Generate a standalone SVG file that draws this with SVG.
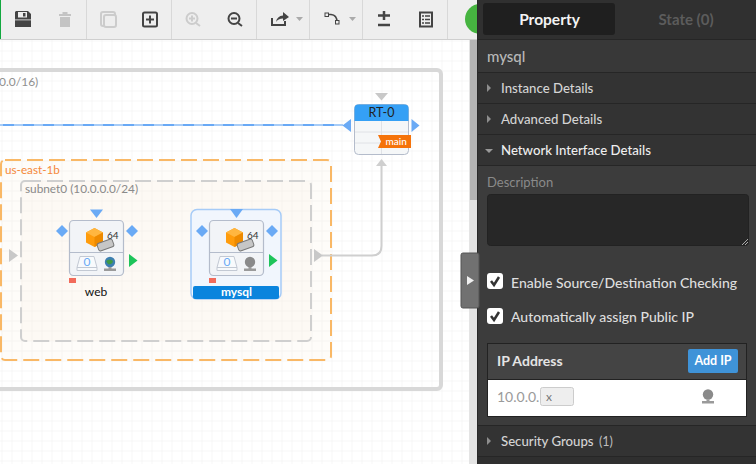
<svg xmlns="http://www.w3.org/2000/svg" width="756" height="464" viewBox="0 0 756 464">
<style>
text{font-family:Lato,"Open Sans",sans-serif}
.ic{fill:#444}.icd{fill:#c4c4c4}
.sep{stroke:#d8d8d8;stroke-width:1}
.hdr{fill:#d4d4d4;font-size:13.200px;font-weight:500}
.row{stroke:#262626;stroke-width:1}
.blue{fill:#6aaaf5}.grey{fill:#c8c8c8}.green{fill:#1ec45a}
.card{fill:#f2f4f7;stroke:#b4bccb;stroke-width:1.200}
.lbl{fill:#333;font-size:10px}
.opt{font-size:14px;font-weight:500;fill:#dedede}
</style>
<defs>
<pattern id="grid" width="10" height="10" patternUnits="userSpaceOnUse" x="1.5" y="0.5"><path d="M10 0H0V10" fill="none" stroke="#f0f0f0" stroke-width="1"/></pattern>
<g id="cube"><path d="M0-9.500 8.500-5V5L0 9.500-8.500 5V-5Z" fill="#ff9c0c"/><path d="M0-9.500 8.500-5 0-.5-8.500-5Z" fill="#ffb640"/><path d="M0-.5 8.500-5V5L0 9.500Z" fill="#ee8a00"/></g>
<g id="disk"><rect x="-8" y="-4" width="16" height="8" rx="2" transform="rotate(-20)" fill="#c6c6c6" stroke="#777" stroke-width="1"/></g>
<g id="hdd"><path d="M-7-7H7L10 4V7H-10V4Z" fill="#f8fafc" stroke="#c3c9d3"/><path d="M-10 4H10" stroke="#c3c9d3"/><text x="0" y="2.500" text-anchor="middle" font-size="12" fill="#6aaaf5">0</text></g>
<g id="cam"><circle cx="0" cy="-2" r="5.200"/><path d="M-1.500 3H1.500V4.500H6V7H-6V4.500H-1.500Z" fill="#9a9a9a"/></g>
</defs>
<rect width="756" height="464" fill="#fff"/>
<rect y="39" width="470" height="425" fill="url(#grid)"/>
<g id="vpc"><rect x="-30" y="70" width="471" height="319" rx="4" fill="none" stroke="#d8d8d8" stroke-width="4"/>
<text x="-1" y="86" font-size="12" fill="#8f8f8f">0.0/16)</text></g>
<g id="az"><rect x="1" y="160" width="330" height="200" rx="4" fill="#f9f2e0" fill-opacity=".2" stroke="#f9b866" stroke-width="2" stroke-dasharray="16 6"/>
<text x="5" y="174" font-size="11.700" fill="#f5883a">us-east-1b</text></g>
<g id="subnet"><rect x="21" y="181" width="290" height="160" rx="4" fill="#f9f2e0" fill-opacity=".2" stroke="#cfcfcf" stroke-width="2" stroke-dasharray="16 6"/>
<text x="25" y="193" font-size="11.800" fill="#8a8a8a">subnet0 (10.0.0.0/24)</text></g>
<g id="connectors" fill="none">
<path d="M0 125H343" stroke="#a7ccf7" stroke-width="2"/>
<path d="M0 125H343" stroke="#69a9f5" stroke-width="2" stroke-dasharray="11 9" stroke-dashoffset="-3"/>
<path d="M322 255.500H372Q381.500 255.500 381.500 246V165" stroke="#cfcfcf" stroke-width="2"/>
<path d="M381.500 159 376 166H387Z" fill="#cfcfcf"/>
</g>
<g id="web">
<path class="grey" d="M9 249 18 255.500 9 262Z"/>
<path class="blue" d="M90 209.500H103L96.500 218Z"/><path class="blue" d="M62 225 68 231 62 237 56 231Z"/><path class="blue" d="M132 225 138 231 132 237 126 231Z"/>
<path class="green" d="M129 254 137.500 260.500 129 267Z"/>
<rect class="card" x="69.500" y="220.500" width="54" height="55" rx="4"/><path d="M69.500 252.500H123.500" stroke="#b4bccb"/>
<use href="#cube" x="94.500" y="237.500"/><use href="#disk" x="105.500" y="245"/><text class="lbl" x="107" y="239">64</text>
<use href="#hdd" x="87" y="263.500"/><use href="#cam" x="110" y="264" fill="#3d7fb0"/><path d="M106 261Q110 258 113 261 112 265 108 264Z" fill="#3f9a44"/>
<rect x="69" y="278" width="7" height="5" fill="#f26b5b"/>
<text x="96" y="296" font-size="12" text-anchor="middle" fill="#111">web</text></g>
<g id="mysql">
<rect x="191" y="209.500" width="90" height="89.500" rx="6" fill="#f1f6fd" stroke="#a6cbf7" stroke-width="1.500"/>
<path class="blue" d="M230 209H243L236.500 218Z"/><path class="blue" d="M202 225 208 231 202 237 196 231Z"/><path class="blue" d="M272 225 278 231 272 237 266 231Z"/>
<path class="green" d="M269 254 277.500 260.500 269 267Z"/>
<path class="grey" d="M314 249 323 255.500 314 262Z"/>
<rect class="card" x="209.500" y="220.500" width="54" height="55" rx="4"/><path d="M209.500 252.500H263.500" stroke="#b4bccb"/>
<use href="#cube" x="234.500" y="237.500"/><use href="#disk" x="245.500" y="245"/><text class="lbl" x="247" y="239">64</text>
<use href="#hdd" x="227" y="263.500"/><use href="#cam" x="250" y="264" fill="#8a8a8a"/>
<rect x="209" y="278" width="7" height="5" fill="#f26b5b"/>
<rect x="193" y="286" width="86" height="13" rx="2" fill="#0a84dd"/>
<text x="236.500" y="296" font-size="12" font-weight="700" text-anchor="middle" fill="#fff">mysql</text></g>
<g id="rt-0">
<path class="grey" d="M375 93H388L381.500 100.500Z"/>
<path class="blue" d="M351 119V132L342.500 125.500Z"/><path class="blue" d="M411.500 119V132L419.500 125.500Z"/>
<rect x="354.500" y="104.500" width="54" height="50" rx="4" fill="#f5f7f8" stroke="#b4bccb"/>
<path d="M354.500 121V108.500Q354.500 104.500 358.500 104.500H404.500Q408.500 104.500 408.500 108.500V121Z" fill="#35a0f5"/>
<path d="M355 132H408M355 143H408M381.500 121V154" stroke="#e0e2e6"/>
<text x="381.500" y="117" font-size="12.500" text-anchor="middle" fill="#222">RT-0</text>
<path d="M378 135H411V148H378L381 141.500Z" fill="#f5730a"/>
<text x="385.500" y="145" font-size="10" font-weight="500" fill="#fff">main</text></g>
<g id="toolbar">
<rect width="478" height="39" fill="#eee"/><rect y="39" width="478" height="1" fill="#cfcfcf"/><rect width="1" height="39" fill="#12a83f"/>
<path class="sep" d="M86.500 0V39M171.500 0V39M256.500 0V39M309.500 0V39M362.500 0V39M447.500 0V39"/>
<path class="ic" d="M16 11H28L31 14V27H15V12Z"/><rect x="18" y="12" width="9" height="5.500" fill="#eee"/><rect x="23" y="13" width="2.500" height="3.500" fill="#444"/><rect x="15" y="19.500" width="16" height=".8" fill="#eee"/>
<path class="icd" d="M59 14H71V16H59ZM60 17H70V27H60ZM62.500 12H67.500V14H62.500Z"/>
<rect x="101" y="12" width="14" height="14" rx="2" fill="none" stroke="#ccc" stroke-width="2"/><rect x="104" y="15" width="12" height="12" rx="2" fill="#eee" stroke="#ccc" stroke-width="2"/>
<rect x="143" y="12.500" width="14" height="14" rx="1.500" fill="none" stroke="#444" stroke-width="2"/><path d="M150 15.500V23.500M146 19.500H154" stroke="#444" stroke-width="2"/>
<circle cx="192" cy="18.500" r="5.500" fill="none" stroke="#ccc" stroke-width="2"/><path d="M189 18.500H195M192 15.500V21.500M196 23 200 26" stroke="#ccc" stroke-width="2"/>
<circle cx="234" cy="18.500" r="5.500" fill="none" stroke="#444" stroke-width="2"/><path d="M231 18.500H237M238 23 242 26" stroke="#444" stroke-width="2"/>
<path d="M272 18V25H285V21" fill="none" stroke="#444" stroke-width="2"/><path class="ic" d="M276 22Q277 16 283 15.500V12L289 17 283 21V18.500Q278 18.500 276 22Z"/>
<path d="M296 17H303L299.500 21Z" fill="#aaa"/>
<path d="M326 14.500H331Q337 15 337 22" fill="none" stroke="#444" stroke-width="1.500"/><rect x="325" y="13" width="3.500" height="3.500" fill="#eee" stroke="#444"/><rect x="335.500" y="20.500" width="3.500" height="3.500" fill="#eee" stroke="#444"/>
<path d="M349 17H356L352.500 21Z" fill="#aaa"/>
<path d="M378 15.500H390M384 11V20M378 25H390" stroke="#444" stroke-width="2.500"/>
<rect x="420" y="12.500" width="12" height="14" fill="none" stroke="#444" stroke-width="2"/><path d="M422 16H424M425 16H430M422 19.500H424M425 19.500H430M422 23H424M425 23H430" stroke="#444" stroke-width="1.500"/>
<circle cx="480" cy="19" r="15" fill="#46b440"/>
</g>
<rect x="469" y="40" width="9" height="424" fill="#e4e4e4"/><rect x="470" y="40" width="7" height="160" fill="#b4b4b4"/>
<g id="panel">
<rect x="477" y="0" width="279" height="464" fill="#3c3c3c"/><rect x="477" y="0" width="1" height="464" fill="#2a2a2a"/>
<rect x="478" y="0" width="278" height="39" fill="#303030"/>
<rect x="478" y="40" width="278" height="32" fill="#383838"/><rect x="478" y="73" width="278" height="92" fill="#333"/><rect x="478" y="426" width="278" height="30" fill="#333"/><rect x="478" y="457" width="278" height="7" fill="#2f2f2f"/>
<path class="row" d="M478 39.500H756M478 72.500H756M478 103.500H756M478 134.500H756M478 165.500H756M478 425.500H756M478 456.500H756"/>
<rect x="483" y="3" width="132" height="32" rx="3" fill="#1f1f1f"/>
<text x="549.500" y="25" font-size="15.500" font-weight="700" text-anchor="middle" fill="#f4f4f4">Property</text>
<text x="686" y="25" font-size="15" font-weight="700" text-anchor="middle" fill="#5c5c5c">State (0)</text>
<text x="487" y="62" font-size="15" font-weight="500" fill="#b8b8b8">mysql</text>
<path d="M487 84 491 88 487 92ZM487 115 491 119 487 123ZM487 437 491 441 487 445Z" fill="#8e8e8e"/><path d="M485 149H493L489 153Z" fill="#999"/>
<text class="hdr" x="501" y="93">Instance Details</text><text class="hdr" x="501" y="124">Advanced Details</text><text class="hdr" x="501" y="155" style="fill:#eee">Network Interface Details</text>
<text x="487" y="187" font-size="13" fill="#8a8a8a">Description</text>
<rect x="487.500" y="194.500" width="261" height="51" rx="3" fill="#272727" stroke="#222"/><path d="M742 245 748 239M745 245 748 242" stroke="#aaa"/>
<rect x="487" y="273" width="16" height="16" rx="3" fill="#fff"/><path d="M491 281 494 285 499 277" fill="none" stroke="#333" stroke-width="2.500"/>
<text class="opt" x="511" y="288">Enable Source/Destination Checking</text>
<rect x="487" y="308" width="16" height="16" rx="3" fill="#fff"/><path d="M491 316 494 320 499 312" fill="none" stroke="#333" stroke-width="2.500"/>
<text class="opt" x="511" y="322">Automatically assign Public IP</text>
<rect x="487.500" y="343.500" width="259" height="73" fill="#444" stroke="#222"/>
<rect x="488" y="380" width="258" height="36" fill="#fff"/><path d="M488 379.500H746" stroke="#222"/>
<text x="497" y="365.500" font-size="14" font-weight="700" fill="#e4e4e4">IP Address</text>
<rect x="688" y="349" width="50" height="24" rx="2" fill="#3f93d8"/><text x="713" y="365" font-size="12.500" font-weight="700" text-anchor="middle" fill="#fff">Add IP</text>
<text x="497" y="402" font-size="14" fill="#9a9a9a">10.0.0.</text>
<rect x="540.500" y="387.500" width="33" height="18" rx="2" fill="#eee" stroke="#ccc"/><text x="546" y="401" font-size="12" fill="#777">x</text>
<use href="#cam" x="708" y="396.500" fill="#8a8a8a"/>
<text class="hdr" x="501" y="446">Security Groups</text><text x="599" y="446" font-size="12.500" fill="#bdbdbd">(1)</text>
</g>
<g id="toggle"><rect x="461" y="253" width="18" height="55" rx="2" fill="#717171" stroke="#555"/><path d="M467 276 474 280.500 467 285Z" fill="#f0f0f0"/></g>
</svg>
